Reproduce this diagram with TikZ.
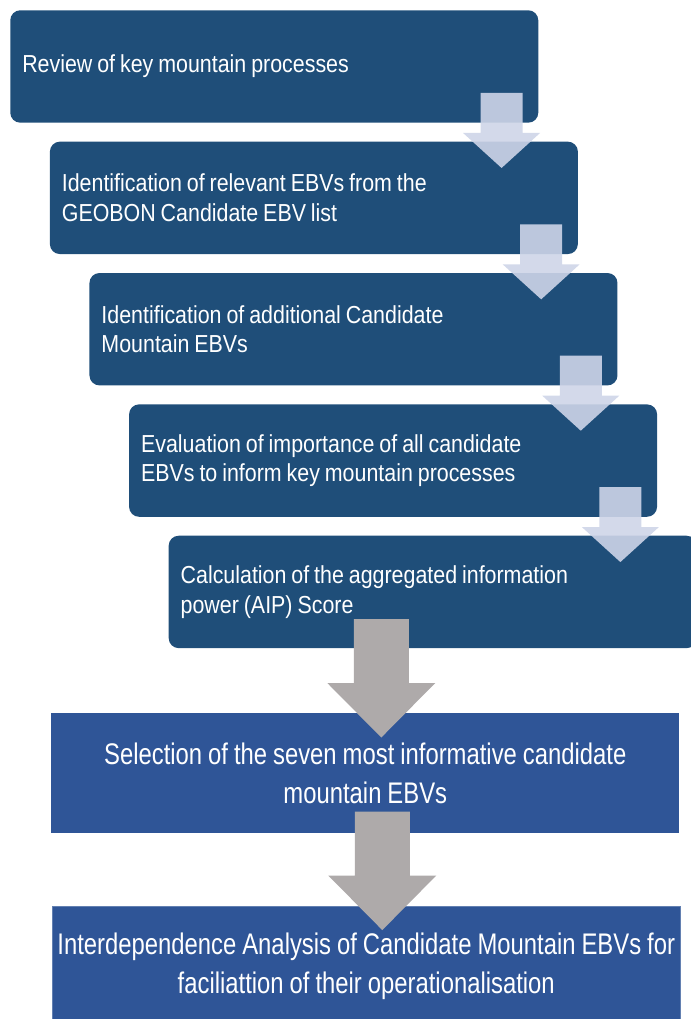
\documentclass[tikz,border=0pt]{standalone}
\usepackage{fontspec}
\setmainfont[FakeStretch=0.8]{Liberation Sans}
\newfontfamily\stagefont[FakeStretch=0.87]{Liberation Sans}
\usepackage{tikz}
\usetikzlibrary{positioning,calc}
\definecolor{stageblue}{RGB}{31,78,121}
\definecolor{resultblue}{RGB}{47,85,151}
\definecolor{arrowpale}{RGB}{206,213,232}
\definecolor{arrowgray}{RGB}{174,170,170}
\newcommand{\tightwords}{\spaceskip=0.2em\relax}

\begin{document}
\begin{tikzpicture}[
    stage/.style={rectangle, fill=stageblue, text=white, text width=12.6cm,
        inner xsep=0.3cm, minimum width=13.2cm, minimum height=2.81cm,
        align=left, rounded corners=0.25cm,
        font=\stagefont\fontsize{17.5}{21}\selectfont, execute at begin node=\tightwords},
    result/.style={rectangle, fill=resultblue, text=white, text width=15.5cm,
        inner xsep=0.1cm, minimum width=15.7cm, minimum height=3cm,
        align=center, font=\fontsize{21.2}{27.7}\selectfont, execute at begin node=\tightwords},
    palearrow/.style={fill=arrowpale, fill opacity=0.9},
    grayarrow/.style={fill=arrowgray}
]
    \useasboundingbox (0,0) rectangle (17.25,-25.475);

    \node[stage, anchor=north west] (review) at (0.25,-0.25) {Review of key mountain processes};
    \node[stage, below right=0.46cm and 0.99cm of review.south west] (relevant) {Identification of relevant EBVs from the\\GEOBON Candidate EBV list};
    \node[stage, below right=0.46cm and 0.99cm of relevant.south west] (additional) {Identification of additional Candidate\\Mountain EBVs};
    \node[stage, below right=0.46cm and 0.99cm of additional.south west] (evaluation) {Evaluation of importance of all candidate\\EBVs to inform key mountain processes};
    \node[stage, below right=0.46cm and 0.99cm of evaluation.south west] (aip) {Calculation of the aggregated information\\power (AIP) Score};

    \node[result, anchor=north west] (selection) at (1.275,-17.825) {Selection of the seven most informative candidate\\mountain EBVs};
    \node[result, draw=resultblue!75!white, below right=1.8cm and 0.025cm of selection.south west] (interdep) {Interdependence Analysis of Candidate Mountain EBVs for\\faciliattion of their operationalisation};

    \foreach \a in {review,relevant,additional,evaluation}
        \fill[palearrow, shift={($(\a.south east)+(-0.925,0)$)}]
            (-0.525,0.75) -- (0.525,0.75) -- (0.525,-0.25) -- (0.9625,-0.25)
            -- (0,-1.125) -- (-0.9625,-0.25) -- (-0.525,-0.25) -- cycle;

    \foreach \b in {selection,interdep}
        \fill[grayarrow, shift={($(\b.north)+(0.4,0)$)}]
            (-0.6875,2.35) -- (0.6875,2.35) -- (0.6875,0.75) -- (1.35,0.75)
            -- (0,-0.6125) -- (-1.35,0.75) -- (-0.6875,0.75) -- cycle;
\end{tikzpicture}
\end{document}
